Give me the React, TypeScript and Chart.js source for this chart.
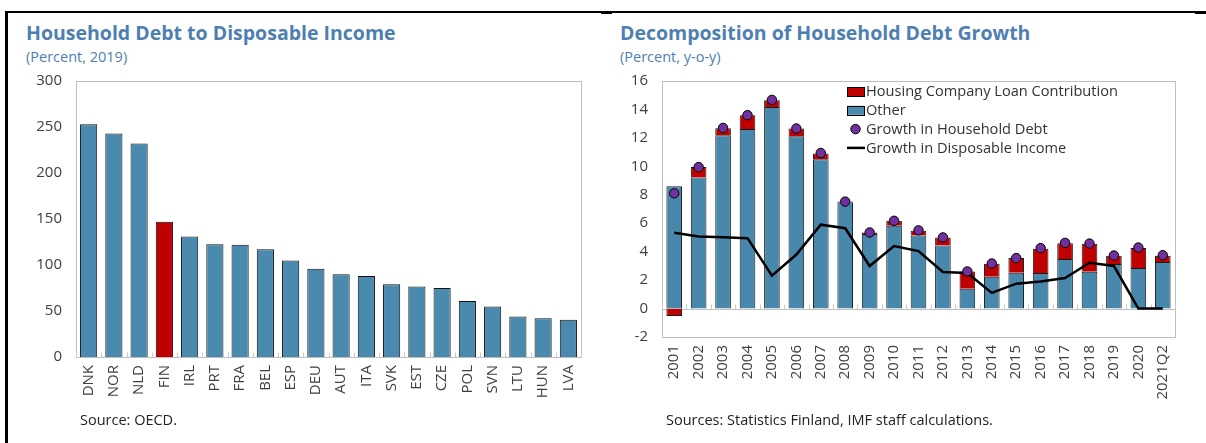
import React, { useEffect, useRef } from "react";
import { Chart, registerables } from "chart.js";

Chart.register(...registerables);

// ---------- Data: left chart ----------
const countries = ["DNK", "NOR", "NLD", "FIN", "IRL", "PRT", "FRA", "BEL", "ESP", "DEU", "AUT", "ITA", "SVK", "EST", "CZE", "POL", "SVN", "LTU", "HUN", "LVA"];
const debtToIncome = [253, 243, 232, 147, 131, 122.5, 122, 117, 105, 96, 90, 88, 79, 76.5, 75, 61, 55, 44, 42, 40.5];
const leftTicks = [0, 50, 100, 150, 200, 250, 300];

// ---------- Data: right chart ----------
const periods = ["2001", "2002", "2003", "2004", "2005", "2006", "2007", "2008", "2009", "2010", "2011", "2012", "2013", "2014", "2015", "2016", "2017", "2018", "2019", "2020", "2021Q2"];
const otherContribution = [8.6, 9.22, 12.19, 12.63, 14.18, 12.12, 10.5, 7.47, 5.25, 5.82, 5.14, 4.44, 1.4, 2.24, 2.52, 2.5, 3.48, 2.59, 3.13, 2.85, 3.27];
const housingContribution = [-0.52, 0.73, 0.49, 0.97, 0.46, 0.54, 0.4, 0.05, 0.1, 0.35, 0.33, 0.56, 1.21, 0.91, 1.03, 1.7, 1.12, 1.96, 0.58, 1.4, 0.44];
const householdDebtGrowth = [8.1, 9.95, 12.7, 13.6, 14.67, 12.66, 10.94, 7.52, 5.35, 6.17, 5.5, 5.0, 2.61, 3.17, 3.55, 4.25, 4.62, 4.57, 3.73, 4.29, 3.75];
const disposableIncomeGrowth = [5.33, 5.07, 5.02, 4.95, 2.31, 3.8, 5.9, 5.65, 2.99, 4.39, 4.04, 2.57, 2.5, 1.1, 1.75, 1.91, 2.15, 3.22, 2.99, 0, 0];

const FONT = "'Open Sans', 'Noto Sans', sans-serif";
const TITLE_COLOR = "#4E7FB3";
const TICK_COLOR = "#404040";
const BLUE = "#4A8AAE";
const RED = "#C00000";
const PURPLE = "#7030A0";
const TICK_SIZE = 15;

function makeDotPattern(): CanvasPattern | string {
  const c = document.createElement("canvas");
  c.width = 8;
  c.height = 8;
  const ctx = c.getContext("2d");
  if (!ctx) return BLUE;
  ctx.fillStyle = BLUE;
  ctx.fillRect(0, 0, 8, 8);
  ctx.fillStyle = "#3F7FA3";
  ctx.fillRect(2, 2, 1, 1);
  ctx.fillRect(6, 6, 1, 1);
  return ctx.createPattern(c, "repeat") || BLUE;
}

function makeHatchPattern(): CanvasPattern | string {
  const c = document.createElement("canvas");
  c.width = 4;
  c.height = 4;
  const ctx = c.getContext("2d");
  if (!ctx) return BLUE;
  ctx.fillStyle = BLUE;
  ctx.fillRect(0, 0, 4, 4);
  ctx.fillStyle = "#4280A4";
  ctx.fillRect(0, 3, 1, 1);
  ctx.fillRect(1, 2, 1, 1);
  ctx.fillRect(2, 1, 1, 1);
  ctx.fillRect(3, 0, 1, 1);
  return ctx.createPattern(c, "repeat") || BLUE;
}

// Frame, zero line and inside category tick marks
const framePlugin = {
  id: "frameBox",
  beforeDatasetsDraw(chart: any) {
    const { ctx, chartArea } = chart;
    const x = chart.scales.x;
    const y = chart.scales.y;
    ctx.save();
    ctx.strokeStyle = "#BFBFBF";
    ctx.lineWidth = 1;
    ctx.strokeRect(Math.round(chartArea.left) + 0.5, Math.round(chartArea.top) + 0.5, Math.round(chartArea.right - chartArea.left), Math.round(chartArea.bottom - chartArea.top));
    const zy = Math.round(y.getPixelForValue(0)) + 0.5;
    ctx.beginPath();
    ctx.moveTo(chartArea.left, zy);
    ctx.lineTo(chartArea.right, zy);
    ctx.stroke();
    ctx.strokeStyle = "#C8C8C8";
    const n = chart.data.labels.length;
    for (let i = 0; i <= n; i++) {
      const px = i < n ? x.getPixelForValue(i) - (x.getPixelForValue(1) - x.getPixelForValue(0)) / 2 : chartArea.right;
      const rx = Math.round(px) + 0.5;
      ctx.beginPath();
      ctx.moveTo(rx, zy);
      ctx.lineTo(rx, zy - 5);
      ctx.stroke();
    }
    ctx.restore();
  },
};

// Legend drawn inside the plot area
const innerLegendPlugin = {
  id: "innerLegend",
  afterDraw(chart: any, _args: any, opts: any) {
    if (!opts || !opts.items) return;
    const { ctx, chartArea } = chart;
    const x0 = chartArea.left + opts.offsetX;
    let yc = chartArea.top + opts.offsetY;
    ctx.save();
    ctx.font = `14.6px ${FONT}`;
    ctx.textBaseline = "middle";
    ctx.textAlign = "left";
    for (const item of opts.items) {
      const ds = chart.data.datasets[item.index];
      if (item.kind === "box") {
        ctx.fillStyle = ds.legendColor;
        ctx.fillRect(x0, yc - 4.5, 17, 9);
        ctx.strokeStyle = "#000";
        ctx.lineWidth = 1;
        ctx.strokeRect(x0 + 0.5, Math.round(yc - 4.5) + 0.5, 17, 9);
      } else if (item.kind === "dot") {
        ctx.beginPath();
        ctx.arc(x0 + 8.5, yc, 4.7, 0, Math.PI * 2);
        ctx.fillStyle = ds.backgroundColor;
        ctx.fill();
        ctx.strokeStyle = "#000";
        ctx.lineWidth = 1;
        ctx.stroke();
      } else {
        ctx.beginPath();
        ctx.moveTo(x0, yc);
        ctx.lineTo(x0 + 18, yc);
        ctx.strokeStyle = ds.borderColor;
        ctx.lineWidth = 2.5;
        ctx.stroke();
      }
      ctx.fillStyle = "#333333";
      ctx.fillText(ds.label, x0 + 19, yc + 0.5);
      yc += opts.rowHeight;
    }
    ctx.restore();
  },
};

function LeftChart() {
  const ref = useRef<HTMLCanvasElement>(null);
  useEffect(() => {
    if (!ref.current) return;
    const pat = makeDotPattern();
    const chart = new Chart(ref.current, {
      type: "bar",
      data: {
        labels: countries,
        datasets: [
          {
            label: "Household Debt to Disposable Income",
            data: debtToIncome,
            backgroundColor: countries.map((c) => (c === "FIN" ? RED : pat)) as any,
            borderColor: "#111111",
            borderWidth: 1,
            barPercentage: 0.68,
            categoryPercentage: 1,
          },
        ],
      },
      options: {
        responsive: false,
        animation: false,
        layout: { padding: { top: 10, right: 19, left: 0, bottom: 0 } },
        plugins: { legend: { display: false }, tooltip: { enabled: false } },
        scales: {
          x: {
            grid: { display: false, drawTicks: false },
            border: { display: false },
            ticks: { color: TICK_COLOR, font: { family: FONT, size: TICK_SIZE }, minRotation: 90, maxRotation: 90, padding: 8, autoSkip: false },
            afterFit: (s: any) => { s.height = 63; },
          },
          y: {
            min: 0,
            max: 300,
            afterBuildTicks: (s: any) => { s.ticks = leftTicks.map((v) => ({ value: v })); },
            grid: { display: false, drawTicks: false },
            border: { display: false },
            ticks: { color: TICK_COLOR, font: { family: FONT, size: TICK_SIZE }, padding: 14 },
            afterFit: (s: any) => { s.width = 76; },
          },
        },
      },
      plugins: [framePlugin],
    } as any);
    return () => chart.destroy();
  }, []);
  return <canvas ref={ref} width={600} height={362} style={{ position: "absolute", left: 0, top: 58, width: 600, height: 362 }} />;
}

function RightChart() {
  const ref = useRef<HTMLCanvasElement>(null);
  useEffect(() => {
    if (!ref.current) return;
    const hatch = makeHatchPattern();
    const chart = new Chart(ref.current, {
      type: "bar",
      data: {
        labels: periods,
        datasets: [
          {
            type: "scatter",
            label: "Growth in Household Debt",
            data: householdDebtGrowth.map((v, i) => ({ x: periods[i], y: v })),
            backgroundColor: PURPLE,
            borderColor: "#000000",
            borderWidth: 1,
            pointRadius: 4.7,
            showLine: false,
            order: 0,
          },
          {
            type: "line",
            label: "Growth in Disposable Income",
            data: disposableIncomeGrowth,
            borderColor: "#000000",
            borderWidth: 2.5,
            pointRadius: 0,
            tension: 0,
            fill: false,
            order: 1,
          },
          {
            type: "bar",
            label: "Other",
            data: otherContribution,
            backgroundColor: hatch,
            legendColor: BLUE,
            borderColor: "#1A1A1A",
            borderWidth: 1,
            barPercentage: 0.64,
            categoryPercentage: 1,
            stack: "s",
            order: 2,
          },
          {
            type: "bar",
            label: "Housing Company Loan Contribution",
            data: housingContribution,
            backgroundColor: RED,
            legendColor: RED,
            borderColor: "#1A1A1A",
            borderWidth: 1,
            barPercentage: 0.64,
            categoryPercentage: 1,
            stack: "s",
            order: 2,
          },
        ],
      },
      options: {
        responsive: false,
        animation: false,
        layout: { padding: { top: 10, right: 28, left: 0, bottom: 0 } },
        plugins: {
          legend: { display: false },
          tooltip: { enabled: false },
          innerLegend: {
            offsetX: 185,
            offsetY: 10.5,
            rowHeight: 18.8,
            items: [
              { index: 3, kind: "box" },
              { index: 2, kind: "box" },
              { index: 0, kind: "dot" },
              { index: 1, kind: "line" },
            ],
          },
        },
        scales: {
          x: {
            type: "category",
            stacked: true,
            offset: true,
            grid: { display: false, drawTicks: false },
            border: { display: false },
            ticks: { color: TICK_COLOR, font: { family: FONT, size: TICK_SIZE }, minRotation: 90, maxRotation: 90, padding: 8, autoSkip: false },
            afterFit: (s: any) => { s.height = 83; },
          },
          y: {
            stacked: true,
            min: -2,
            max: 16,
            ticks: { stepSize: 2, color: TICK_COLOR, font: { family: FONT, size: TICK_SIZE }, padding: 14 },
            grid: { display: false, drawTicks: false },
            border: { display: false },
            afterFit: (s: any) => { s.width = 59; },
          },
        },
      },
      plugins: [framePlugin, innerLegendPlugin],
    } as any);
    return () => chart.destroy();
  }, []);
  return <canvas ref={ref} width={600} height={362} style={{ position: "absolute", left: 603, top: 58, width: 600, height: 362 }} />;
}

const textBase: React.CSSProperties = { position: "absolute", whiteSpace: "nowrap", fontFamily: FONT };

export default function App() {
  useEffect(() => {
    document.body.style.margin = "0";
  }, []);
  return (
    <div style={{ position: "relative", width: 1206, height: 443, background: "#ffffff", overflow: "hidden" }}>
      {/* frame */}
      <div style={{ position: "absolute", left: 5, top: 11, width: 1201, height: 2, background: "#000" }} />
      <div style={{ position: "absolute", left: 5, top: 11, width: 3, height: 432, background: "#000" }} />
      <div style={{ position: "absolute", left: 601, top: 11, width: 11, height: 3, background: "#000" }} />
      <div style={{ position: "absolute", left: 1195, top: 11, width: 11, height: 3, background: "#000" }} />

      <div style={{ ...textBase, left: 26, top: 22, fontSize: 19.5, lineHeight: "22px", fontWeight: 700, color: TITLE_COLOR }}>Household Debt to Disposable Income</div>
      <div style={{ ...textBase, left: 26, top: 48, fontSize: 14.5, lineHeight: "17px", color: TITLE_COLOR }}>(Percent, 2019)</div>
      <div style={{ ...textBase, left: 620, top: 22, fontSize: 19.5, lineHeight: "22px", fontWeight: 700, color: TITLE_COLOR }}>Decomposition of Household Debt Growth</div>
      <div style={{ ...textBase, left: 620, top: 48, fontSize: 14.5, lineHeight: "17px", color: TITLE_COLOR }}>(Percent, y-o-y)</div>

      <LeftChart />
      <RightChart />

      <div style={{ ...textBase, left: 80, top: 411, fontSize: 14.5, lineHeight: "17px", color: "#222" }}>Source: OECD.</div>
      <div style={{ ...textBase, left: 666, top: 411, fontSize: 14.5, lineHeight: "17px", color: "#222" }}>Sources: Statistics Finland, IMF staff calculations.</div>
    </div>
  );
}
